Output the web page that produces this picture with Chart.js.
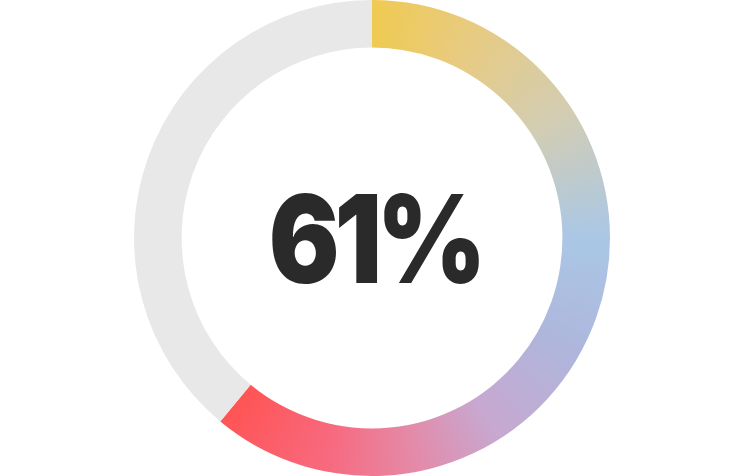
<!DOCTYPE html>
<html>
<head>
<meta charset="utf-8">
<script src="https://cdn.jsdelivr.net/npm/chart.js@4"></script>
<style>
  html, body { margin: 0; padding: 0; background: #ffffff; }
  #wrap { position: relative; width: 750px; height: 476px; }
  #label {
    position: absolute; left: -3px; top: 0; width: 750px; height: 476px;
    display: flex; align-items: center; justify-content: center;
    font-family: Inter, "Noto Sans", sans-serif; font-weight: 900;
    font-size: 122px; letter-spacing: -6px; color: #2a2a2a;
    pointer-events: none;
  }
  #label span { display: inline-block; transform: scaleX(0.86); padding-left: 6px; }
</style>
</head>
<body>
<div id="wrap">
  <canvas id="gauge" width="750" height="476"></canvas>
  <div id="label"><span>61%</span></div>
</div>
<script>
/* ---- data ---- */
const labels = ["Done", "Remaining"];
const values = [61, 39];
const trackColor = "#e8e8e8";

// colour stops round the ring, clockwise from 12 o'clock
const gradStops = [
  [0.00, "#f0ca52"],
  [0.08, "#e6cb86"],
  [0.16, "#d2cdb4"],
  [0.25, "#aac7e6"],
  [0.33, "#aeb6dc"],
  [0.41, "#c7a8d0"],
  [0.47, "#e48aa8"],
  [0.53, "#f76a80"],
  [0.61, "#ff5454"],
  [1.00, "#ff5454"]
];

function ringFill(context) {
  const chart = context.chart;
  const area = chart.chartArea;
  if (!area) return trackColor;
  const cx = (area.left + area.right) / 2;
  const cy = (area.top + area.bottom) / 2;
  const g = chart.ctx.createConicGradient(-Math.PI / 2, cx, cy);
  gradStops.forEach(s => g.addColorStop(s[0], s[1]));
  return g;
}

new Chart(document.getElementById("gauge").getContext("2d"), {
  type: "doughnut",
  data: {
    labels: labels,
    datasets: [{
      data: values,
      backgroundColor: ctx => ctx.dataIndex === 0 ? ringFill(ctx) : trackColor,
      borderWidth: 0
    }]
  },
  options: {
    responsive: false,
    animation: false,
    cutout: "80%",
    layout: { padding: { right: 6 } },
    plugins: { legend: { display: false }, tooltip: { enabled: false } }
  }
});
</script>
</body>
</html>
